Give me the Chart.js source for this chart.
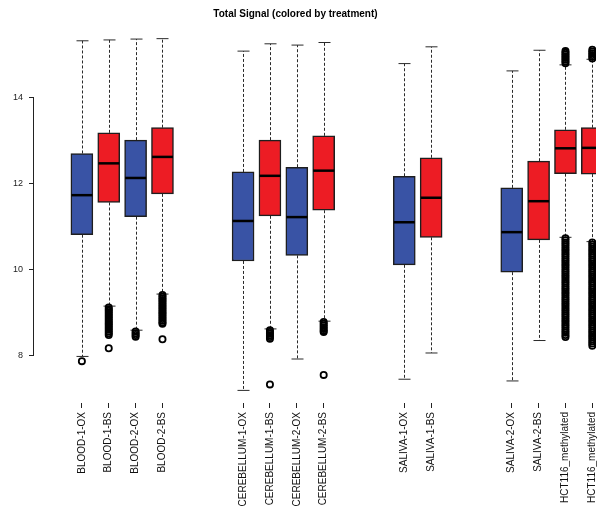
<!DOCTYPE html>
<html>
<head>
<meta charset="utf-8">
<script src="https://cdn.jsdelivr.net/npm/chart.js@4/dist/chart.umd.min.js"></script>
<style>
  html, body { margin: 0; padding: 0; background: #ffffff; }
  #wrap { width: 601px; height: 514px; position: relative; }
</style>
</head>
<body>
<div id="wrap"><canvas id="c" width="601" height="514"></canvas></div>
<script>
// Total signal per sample, summarised as boxplots
const chartTitle = 'Total Signal (colored by treatment)';

const samples = [
  'BLOOD-1-OX', 'BLOOD-1-BS', 'BLOOD-2-OX', 'BLOOD-2-BS',
  'CEREBELLUM-1-OX', 'CEREBELLUM-1-BS', 'CEREBELLUM-2-OX', 'CEREBELLUM-2-BS',
  'SALIVA-1-OX', 'SALIVA-1-BS',
  'SALIVA-2-OX', 'SALIVA-2-BS', 'HCT116_methylated', 'HCT116_methylated'
];
const treatment = ['OX', 'BS', 'OX', 'BS', 'OX', 'BS', 'OX', 'BS', 'OX', 'BS', 'OX', 'BS', 'BS', 'BS'];
// sample group (a gap separates consecutive groups)
const group = [0, 0, 0, 0, 1, 1, 1, 1, 2, 2, 3, 3, 3, 3];

const whiskerHigh = [15.33, 15.35, 15.37, 15.38, 15.09, 15.26, 15.23, 15.29, 14.80, 15.19, 14.63, 15.11, 14.77, 14.90];
const q3          = [12.71, 13.19, 13.02, 13.31, 12.28, 13.02, 12.39, 13.12, 12.18, 12.61, 11.91, 12.53, 13.26, 13.31];
const median      = [11.74, 12.48, 12.14, 12.63, 11.14, 12.19, 11.23, 12.31, 11.11, 11.68, 10.88, 11.60, 12.83, 12.84];
const q1          = [10.82, 11.57, 11.24, 11.77, 10.21, 11.26, 10.34, 11.39, 10.12, 10.76,  9.95, 10.70, 12.24, 12.23];
const whiskerLow  = [ 7.99,  9.16,  8.60,  9.44,  7.20,  8.63,  7.93,  8.81,  7.46,  8.07,  7.42,  8.36, 10.76, 10.66];

const outliers = [
  [7.88],
  [9.13, 9.09, 9.05, 9.01, 8.97, 8.93, 8.89, 8.85, 8.81, 8.77, 8.73, 8.69, 8.65, 8.61, 8.57, 8.53, 8.49, 8.18],
  [8.57, 8.53, 8.49, 8.45],
  [9.42, 9.38, 9.34, 9.30, 9.26, 9.22, 9.18, 9.14, 9.10, 9.06, 9.02, 8.98, 8.94, 8.90, 8.86, 8.82, 8.78, 8.75, 8.39],
  [],
  [8.60, 8.56, 8.52, 8.48, 8.44, 8.40, 7.34],
  [],
  [8.79, 8.75, 8.71, 8.67, 8.63, 8.59, 8.56, 7.56],
  [],
  [],
  [],
  [],
  [15.09, 15.05, 15.01, 14.97, 14.93, 14.89, 14.85, 14.81,
   10.74, 10.69, 10.64, 10.59, 10.54, 10.49, 10.44, 10.39, 10.34, 10.29, 10.24, 10.19, 10.14, 10.09, 10.04,
   9.99, 9.94, 9.89, 9.84, 9.79, 9.74, 9.69, 9.64, 9.59, 9.54, 9.49, 9.44, 9.39, 9.34, 9.29, 9.24, 9.19,
   9.14, 9.09, 9.04, 8.99, 8.94, 8.89, 8.84, 8.79, 8.74, 8.69, 8.64, 8.59, 8.54, 8.49, 8.44],
  [15.12, 15.08, 15.04, 15.00, 14.96, 14.92,
   10.64, 10.59, 10.54, 10.49, 10.44, 10.39, 10.34, 10.29, 10.24, 10.19, 10.14, 10.09, 10.04,
   9.99, 9.94, 9.89, 9.84, 9.79, 9.74, 9.69, 9.64, 9.59, 9.54, 9.49, 9.44, 9.39, 9.34, 9.29, 9.24, 9.19,
   9.14, 9.09, 9.04, 8.99, 8.94, 8.89, 8.84, 8.79, 8.74, 8.69, 8.64, 8.59, 8.54, 8.49, 8.44, 8.39, 8.34,
   8.29, 8.24]
];

const yTicks = [8, 10, 12, 14];

// ---- layout helpers ----
const GROUP_GAP = 2;
const slots = samples.map((_, i) => i + GROUP_GAP * group[i]);
const fillFor = { OX: '#3953a5', BS: '#ed1c24' };
const FONT = '"Liberation Sans", Arial, Helvetica, sans-serif';

// whiskers, caps, medians, the y axis line and the title
const boxParts = {
  id: 'boxParts',
  beforeDatasetsDraw(chart) {
    const { ctx, chartArea, scales: { x, y } } = chart;
    ctx.save();
    ctx.beginPath();
    ctx.rect(chartArea.left, chartArea.top, chartArea.right - chartArea.left, chartArea.bottom - chartArea.top);
    ctx.clip();
    ctx.strokeStyle = '#2a2a2a';
    ctx.lineWidth = 1;
    slots.forEach((s, i) => {
      const px = Math.round(x.getPixelForValue(s)) + 0.5;
      const yHi = y.getPixelForValue(whiskerHigh[i]);
      const yQ3 = y.getPixelForValue(q3[i]);
      const yQ1 = y.getPixelForValue(q1[i]);
      const yLo = y.getPixelForValue(whiskerLow[i]);
      ctx.setLineDash([3, 2]);
      ctx.beginPath();
      ctx.moveTo(px, yQ3); ctx.lineTo(px, yHi);
      ctx.moveTo(px, yQ1); ctx.lineTo(px, yLo);
      ctx.stroke();
      ctx.setLineDash([]);
      ctx.beginPath();
      ctx.moveTo(px - 6, yHi); ctx.lineTo(px + 6, yHi);
      ctx.moveTo(px - 6, yLo); ctx.lineTo(px + 6, yLo);
      ctx.stroke();
    });
    ctx.restore();
  },
  afterDatasetsDraw(chart) {
    const { ctx, chartArea, scales: { x, y } } = chart;
    ctx.save();
    ctx.beginPath();
    ctx.rect(chartArea.left, chartArea.top, chartArea.right - chartArea.left, chartArea.bottom - chartArea.top);
    ctx.clip();
    ctx.strokeStyle = '#000000';
    ctx.lineWidth = 2.5;
    slots.forEach((s, i) => {
      const px = x.getPixelForValue(s);
      const ym = y.getPixelForValue(median[i]);
      ctx.beginPath();
      ctx.moveTo(px - 10.5, ym); ctx.lineTo(px + 10.5, ym);
      ctx.stroke();
    });
    ctx.restore();

    // y axis line spanning the labelled ticks only
    ctx.save();
    ctx.strokeStyle = '#222222';
    ctx.lineWidth = 1;
    const ax = Math.round(chartArea.left) - 0.5;
    ctx.beginPath();
    ctx.moveTo(ax, y.getPixelForValue(yTicks[0]));
    ctx.lineTo(ax, y.getPixelForValue(yTicks[yTicks.length - 1]));
    ctx.stroke();

    ctx.fillStyle = '#000000';
    ctx.font = 'bold 10px ' + FONT;
    ctx.textAlign = 'center';
    ctx.textBaseline = 'middle';
    ctx.fillText(chartTitle, 295.5, 14.5);
    ctx.restore();
  }
};

new Chart(document.getElementById('c'), {
  type: 'bar',
  data: {
    datasets: [
      {
        type: 'bar',
        data: slots.map((s, i) => ({ x: s, y: [q1[i], q3[i]] })),
        backgroundColor: treatment.map(t => fillFor[t]),
        borderColor: '#1e1e1e',
        borderWidth: 1.5,
        borderSkipped: false,
        barThickness: 22
      },
      {
        type: 'scatter',
        data: outliers.flatMap((vals, i) => vals.map(v => ({ x: slots[i], y: v }))),
        pointStyle: 'circle',
        pointRadius: 3.1,
        pointHoverRadius: 3.1,
        pointBorderWidth: 1.8,
        pointBackgroundColor: 'rgba(0,0,0,0)',
        pointBorderColor: '#000000'
      }
    ]
  },
  options: {
    responsive: false,
    animation: false,
    devicePixelRatio: 1,
    layout: { padding: { top: 30, left: 0, right: 0, bottom: 0 } },
    plugins: {
      legend: { display: false },
      tooltip: { enabled: false },
      title: { display: false }
    },
    scales: {
      x: {
        type: 'linear',
        min: -1.782,
        max: 19.14,
        offset: false,
        grid: { display: true, offset: false, drawOnChartArea: false, drawTicks: true, tickLength: 5, color: '#222222' },
        border: { display: false },
        afterBuildTicks: s => { s.ticks = slots.map(v => ({ value: v })); },
        afterFit: s => { s.height = 111; s.paddingLeft = 0; s.paddingRight = 0; },
        ticks: {
          autoSkip: false,
          maxRotation: 90,
          minRotation: 90,
          padding: 4,
          color: '#111111',
          font: { family: FONT, size: 10 },
          callback: (v, i) => samples[i]
        }
      },
      y: {
        min: 6.907,
        max: 15.581,
        grid: { display: true, drawOnChartArea: false, drawTicks: true, tickLength: 5, color: '#222222' },
        border: { display: false },
        afterBuildTicks: s => { s.ticks = yTicks.map(v => ({ value: v })); },
        afterFit: s => { s.width = 34; },
        ticks: {
          padding: 6,
          color: '#222222',
          font: { family: FONT, size: 9 },
          callback: v => String(v)
        }
      }
    }
  },
  plugins: [boxParts]
});
</script>
</body>
</html>
